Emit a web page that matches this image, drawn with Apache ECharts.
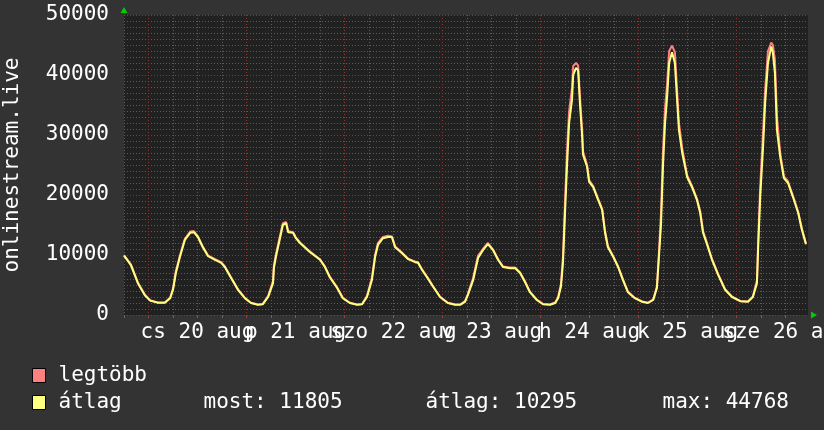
<!DOCTYPE html>
<html>
<head>
<meta charset="utf-8">
<script src="https://cdn.jsdelivr.net/npm/echarts@6/dist/echarts.min.js"></script>
<style>
html,body{margin:0;padding:0;background:#333333;}
#c{width:824px;height:430px;}
</style>
</head>
<body>
<div id="c"></div>
<script>
// hours since 19 aug 00:00
var hours = [18.0,19.7,21.4,23.1,24.4,26.3,28.0,29.3,30.0,30.7,31.7,32.9,34.2,35.1,36.1,37.3,38.6,40.3,41.8,42.7,44.2,45.9,47.6,49.1,50.8,52.0,53.3,54.5,54.7,55.2,56.2,56.9,57.7,58.2,59.4,60.1,61.1,63.5,66.0,67.2,68.4,70.2,71.6,73.3,75.1,76.3,77.5,78.7,79.5,80.2,81.4,82.7,83.6,84.4,86.1,87.6,89.3,90.0,91.0,92.2,93.7,95.4,97.3,99.1,100.3,101.5,102.2,103.5,104.7,105.9,107.1,108.4,109.6,110.8,112.5,113.8,115.0,116.2,117.4,119.1,120.6,122.3,123.6,124.3,125.0,125.5,126.0,126.5,127.0,127.7,128.0,128.7,129.2,129.7,130.2,130.4,131.4,131.9,132.9,134.1,135.1,135.8,136.5,137.8,139.0,140.2,141.4,143.1,144.9,146.3,147.6,148.5,149.0,149.5,150.0,150.5,151.0,151.5,152.2,152.9,153.4,153.9,154.7,155.4,155.9,157.1,158.3,159.1,159.8,160.8,162.0,163.5,165.2,166.9,168.9,170.8,172.0,173.0,173.3,173.8,174.5,175.0,175.7,176.5,176.9,177.4,177.9,178.7,179.6,180.6,181.8,183.1,184.0,185.0];
var avgValues = [9900,8300,5300,3300,2400,2050,2050,2800,4200,7000,9700,12500,13700,13800,13000,11300,9800,9200,8700,8000,6200,4200,2800,2000,1700,1800,3000,5300,7800,9700,12800,15000,15300,13800,13700,12800,12000,10500,9200,8000,6300,4500,2800,2000,1700,1800,3000,5800,9700,11700,12800,13000,13000,11300,10300,9300,8800,8700,7500,6300,4700,3000,2000,1700,1700,2200,3300,5800,9500,10800,11800,10800,9200,8000,7800,7800,7000,5500,3800,2500,1800,1700,2000,2800,4700,8700,17000,25000,32000,35800,40000,41200,40800,34700,29700,26700,24700,22200,21300,19200,17500,13700,11300,9700,8000,5800,3800,2800,2200,2000,2500,4500,9700,15000,25000,32000,36300,42000,43800,42000,36300,30800,27000,24700,23000,21300,19200,17000,13700,11700,9200,6700,4200,3000,2300,2200,3000,5300,11300,19700,28000,35300,42000,44768,43700,40300,30800,26300,22800,22000,19700,17000,14200,11805];
var maxValues = [10000,8400,5400,3400,2450,2100,2100,2900,4400,7300,9900,12700,13900,14000,13100,11400,9900,9300,8800,8100,6300,4300,2850,2050,1750,1850,3200,5700,8200,10100,13200,15300,15500,14000,13800,12900,12100,10600,9300,8100,6400,4600,2850,2050,1750,1850,3200,6200,10100,12000,13000,13200,13100,11400,10400,9400,8900,8800,7600,6400,4800,3050,2050,1750,1750,2300,3500,6200,9900,11000,12000,10900,9300,8100,7900,7900,7100,5600,3900,2550,1850,1750,2100,3000,5200,9800,19000,27500,34000,37800,41500,42000,41600,36000,30800,27300,25000,22500,21500,19400,17700,14000,11500,9800,8100,5900,3900,2850,2250,2050,2600,4800,10500,17000,27500,34500,38500,44000,44900,43800,38000,32000,27800,25100,23300,21500,19400,17300,14000,11900,9300,6800,4300,3050,2350,2250,3100,5800,12500,21500,30500,37500,44000,45400,45000,42500,33000,27000,23100,22300,19900,17200,14400,11900];
var dayLabels = ['cs 20 aug','p 21 aug','szo 22 aug','v 23 aug','h 24 aug','k 25 aug','sze 26 aug'];
var yTicks = [0,10000,20000,30000,40000,50000];
var seriesNames = ['legtöbb','átlag'];
var statLabels = ['most: 11805','átlag: 10295','max: 44768'];
var yAxisTitle = 'onlinestream.live';

var xMin = 18, xMax = 185.5;
var labelPosA = [], labelPosB = [];
dayLabels.forEach(function(d,i){ (i % 2 === 0 ? labelPosA : labelPosB).push(36 + 24*i); });
var midnights = [], minorHours = [];
for (var h = 18; h <= xMax; h += 6) { if (h % 24 === 0) midnights.push(h); else minorHours.push(h); }

function pairs(vals){ return hours.map(function(t,i){ return [t, vals[i]]; }); }
function dayFmt(v){ var i = Math.round((v-36)/24); return dayLabels[i] || ''; }

var FONT = '"DejaVu Sans Mono", monospace';
var labelBase = {color:'#ffffff', fontFamily:FONT, fontSize:21, margin:7, showMinLabel:true, showMaxLabel:true, hideOverlap:false, formatter:dayFmt};
var chart = echarts.init(document.getElementById('c'), null, {renderer:'canvas'});
chart.setOption({
  backgroundColor: '#333333',
  animation: false,
  textStyle: {fontFamily: FONT},
  grid: {left:124, right:16, top:15, bottom:115, show:true, backgroundColor:'#212121', borderWidth:0,
    containLabel:false, outerBoundsMode:'none'},
  legend: {
    orient:'vertical', left:32, top:365, padding:0, itemWidth:13, itemHeight:14, itemGap:6,
    icon:'rect', selectedMode:false,
    data: seriesNames.map(function(n,i){
      return {name:n, itemStyle:{color: i===0 ? '#ff8080' : '#ffff80', borderColor:'#000', borderWidth:1}};
    }),
    textStyle:{color:'#ffffff', fontFamily:FONT, fontSize:21, lineHeight:21, padding:[0,0,0,8],
      rich:{
        a:{fontFamily:FONT, fontSize:21, color:'#fff', width:145},
        b:{fontFamily:FONT, fontSize:21, color:'#fff', width:222},
        c:{fontFamily:FONT, fontSize:21, color:'#fff', width:237},
        d:{fontFamily:FONT, fontSize:21, color:'#fff'}
      }},
    formatter: function(n){
      if (n === seriesNames[1]) return '{a|'+n+'}{b|'+statLabels[0]+'}{c|'+statLabels[1]+'}{d|'+statLabels[2]+'}';
      return n;
    }
  },
  xAxis: [{
    type:'value', min:xMin, max:xMax,
    axisLine:{show:true, lineStyle:{color:'#00cc00', width:0}, symbol:['none','triangle'], symbolSize:[7,6], symbolOffset:[0,6]},
    axisTick:{show:true, customValues:minorHours, length:3, lineStyle:{color:'#666'}},
    splitLine:{show:true, lineStyle:{color:'#5a5a5a', type:[1,2], width:1}},
    axisLabel:Object.assign({customValues:labelPosA}, labelBase)
  },{
    type:'value', min:xMin, max:xMax, position:'bottom',
    axisLine:{show:false},
    axisTick:{show:true, customValues:midnights, length:3, lineStyle:{color:'#a03a3a'}},
    axisLabel:Object.assign({customValues:labelPosB}, labelBase),
    splitLine:{show:true, showMinLine:true, showMaxLine:true, lineStyle:{color:'#8a3535', type:[1,2], width:1}}
  }],
  yAxis: {
    type:'value', min:0, max:50000, interval:10000,
    name: yAxisTitle, nameLocation:'middle', nameRotate:90, nameGap:101,
    nameTextStyle:{color:'#ffffff', fontFamily:FONT, fontSize:21},
    axisLine:{show:true, lineStyle:{color:'#00cc00', width:0}, symbol:['none','triangle'], symbolSize:[7,6], symbolOffset:[0,5]},
    axisTick:{show:false},
    axisLabel:{color:'#ffffff', fontFamily:FONT, fontSize:21, margin:15, showMinLabel:true, showMaxLabel:true,
      padding:[5,0,0,0],
      customValues: yTicks, formatter:function(v){ return String(v); }},
    splitLine:{show:true, lineStyle:{color:'#8a3535', type:[1,2], width:1}},
    minorTick:{show:false, splitNumber:10},
    minorSplitLine:{show:true, lineStyle:{color:'#5a5a5a', type:[1,2], width:1}}
  },
  series: [{
    name: seriesNames[0], type:'line', data: pairs(maxValues), showSymbol:false, symbol:'none',
    lineStyle:{color:'#ff8080', width:2}, itemStyle:{color:'#ff8080'}, z:2
  },{
    name: seriesNames[1], type:'line', data: pairs(avgValues), showSymbol:false, symbol:'none',
    lineStyle:{color:'#ffff80', width:2}, itemStyle:{color:'#ffff80'}, z:3
  }]
});
</script>
</body>
</html>
